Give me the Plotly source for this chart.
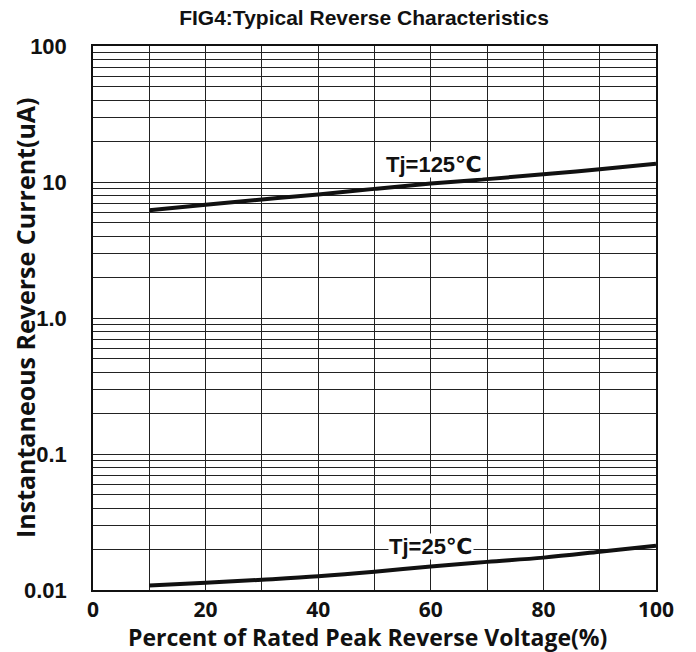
import math
import plotly.graph_objects as go

voltage_pct = [10, 20, 30, 40, 50, 60, 70, 80, 90, 100]
current_125 = [6.2, 6.8, 7.45, 8.1, 8.9, 9.75, 10.5, 11.4, 12.4, 13.6]
current_25 = [0.0108, 0.0113, 0.0119, 0.0126, 0.0136, 0.0149, 0.0161, 0.0173, 0.0191, 0.0212]

x_grid_vals = [0, 10, 20, 30, 40, 50, 60, 70, 80, 90, 100]
x_tick_text = ["0", "", "20", "", "40", "", "60", "", "80", "", "100"]

decades = [0.01, 0.1, 1, 10]
decade_labels = {0.01: "0.01", 0.1: "0.1", 1: "1.0", 10: "10", 100: "100"}
y_vals = []
y_text = []
for d in decades:
    for m in range(1, 10):
        v = round(d * m, 6)
        y_vals.append(v)
        y_text.append(decade_labels.get(v, "") if m == 1 else "")
y_vals.append(100)
y_text.append("100")

labels = [
    {"text": "Tj=125℃", "x": 60.6, "y": 13.4},
    {"text": "Tj=25℃", "x": 60.0, "y": 0.0209},
]

fig = go.Figure()
fig.add_trace(go.Scatter(x=voltage_pct, y=current_125, mode="lines",
                         line=dict(color="#111111", width=4, shape="spline"),
                         showlegend=False))
fig.add_trace(go.Scatter(x=voltage_pct, y=current_25, mode="lines",
                         line=dict(color="#111111", width=4, shape="spline"),
                         showlegend=False))

for lab in labels:
    fig.add_annotation(x=lab["x"], y=math.log10(lab["y"]), yref="y", xref="x", text=lab["text"],
                       showarrow=False, bgcolor="white", borderpad=0,
                       font=dict(family="Liberation Sans, Arial, DejaVu Sans", size=22,
                                 color="#111111", weight="bold"))

fig.add_annotation(text="Percent of Rated Peak Reverse Voltage(%)", xref="paper", yref="paper",
                   x=(367 - 93) / 563, y=-(637 - 590) / 544, xanchor="center", yanchor="middle",
                   showarrow=False,
                   font=dict(family="Open Sans, Lato, Liberation Sans", size=23,
                             color="#111111", weight="bold"))
fig.add_annotation(text="Instantaneous Reverse Current(uA)", xref="paper", yref="paper",
                   x=-(93 - 25) / 563, y=0.5, xanchor="center", yanchor="middle",
                   textangle=-90, showarrow=False,
                   font=dict(family="Open Sans, Lato, Liberation Sans", size=25,
                             color="#111111", weight="bold"))

fig.update_layout(
    width=696, height=652,
    margin=dict(l=93, r=40, t=46, b=62),
    paper_bgcolor="white", plot_bgcolor="white",
    title=dict(text="FIG4:Typical Reverse Characteristics", x=364 / 696, xanchor="center",
               y=1 - 18 / 652, yanchor="middle",
               font=dict(family="Liberation Sans, Arial", size=21, color="#111111", weight="bold")),
    xaxis=dict(range=[0, 100], tickvals=x_grid_vals, ticktext=x_tick_text,
               showgrid=True, gridcolor="#222222", gridwidth=1,
               showline=True, linecolor="#111111", linewidth=1.5, mirror=True,
               ticks="", tickfont=dict(family="Open Sans, Lato, Liberation Sans", size=21,
                                        color="#111111", weight="bold"),
               zeroline=False),
    yaxis=dict(type="log", range=[-2, 2], tickvals=y_vals, ticktext=y_text,
               showgrid=True, gridcolor="#222222", gridwidth=1,
               showline=True, linecolor="#111111", linewidth=1.5, mirror=True,
               ticks="outside", ticklen=20, tickcolor="rgba(0,0,0,0)",
               tickfont=dict(family="Liberation Sans, Arial", size=22,
                             color="#111111", weight="bold"),
               zeroline=False),
)

fig.write_html("out.html")
